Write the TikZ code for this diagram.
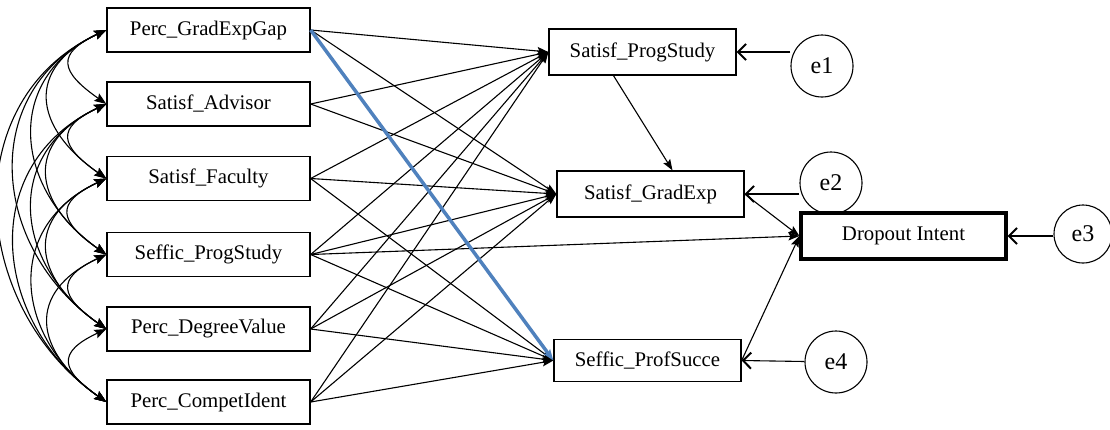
\documentclass[tikz,border=0pt]{standalone}
\usepackage{fontspec}
\setmainfont{Liberation Serif}
\usetikzlibrary{arrows.meta}
\definecolor{pathblue}{RGB}{79,129,189}

\begin{document}
\begin{tikzpicture}[x=1pt, y=-1pt, line width=1.1pt,
    font=\fontsize{20.8}{24}\selectfont,
    >={Stealth[length=11pt,width=8pt,inset=2pt]},
    var/.style={draw, rectangle, line width=1.3pt, inner sep=0pt, minimum width=203pt, minimum height=44pt},
    endo/.style={var, minimum width=187pt, minimum height=46pt},
    err/.style={draw, circle, line width=1.1pt, inner sep=0pt, minimum size=62pt, font=\fontsize{24}{28}\selectfont},
    cov/.style={{Stealth[length=12pt,width=9pt,inset=2pt]}-{Stealth[length=12pt,width=9pt,inset=2pt]}, out=205, in=145},
    res/.style={-{Straight Barb[length=8pt,width=16pt,line width=2pt]}}]
    \useasboundingbox (0,0) rectangle (1110,429);
    % exogenous
    \node[var] (gap) at (208.5,30) {Perc\_GradExpGap};
    \node[var] (adv) at (208.5,104) {Satisf\_Advisor};
    \node[var] (fac) at (208.5,178.5) {Satisf\_Faculty};
    \node[var] (seff) at (208.5,254.5) {Seffic\_ProgStudy};
    \node[var] (deg) at (208.5,329) {Perc\_DegreeValue};
    \node[var] (comp) at (208.5,402) {Perc\_CompetIdent};
    % mediators and outcome
    \node[endo] (psat) at (642.5,52) {Satisf\_ProgStudy};
    \node[endo] (gsat) at (650.5,194) {Satisf\_GradExp};
    \node[endo, minimum height=42pt] (prof) at (647.5,360.5) {Seffic\_ProfSucce};
    \node[endo, line width=3.2pt, minimum width=205pt] (drop) at (903.5,236) {Dropout Intent};
    % residuals
    \node[err] (e1) at (822,66) {e1};
    \node[err] (e2) at (831,183) {e2};
    \node[err, minimum size=58pt] (e3) at (1083,234) {e3};
    \node[err] (e4) at (836,362) {e4};
    \draw[res] (e1.west |- psat.east) -- (psat.east);
    \draw[res] (e2.west |- gsat.east) -- (gsat.east);
    \draw[res] (e3.west |- drop.east) -- (drop.east);
    \draw[res] (e4) -- (prof.east);
    % covariances
    \draw[cov, looseness=1.95] (gap.west) to (adv.west);
    \draw[cov, looseness=1.55] (gap.west) to (fac.west);
    \draw[cov, looseness=1.3] (gap.west) to (seff.west);
    \draw[cov, looseness=1.22] (gap.west) to (deg.west);
    \draw[cov, looseness=1.15] (gap.west) to (comp.west);
    \draw[cov, looseness=1.95] (adv.west) to (fac.west);
    \draw[cov, looseness=1.55] (adv.west) to (seff.west);
    \draw[cov, looseness=1.3] (adv.west) to (deg.west);
    \draw[cov, looseness=1.22] (adv.west) to (comp.west);
    \draw[cov, looseness=1.95] (fac.west) to (seff.west);
    \draw[cov, looseness=1.55] (fac.west) to (deg.west);
    \draw[cov, looseness=1.3] (fac.west) to (comp.west);
    \draw[cov, looseness=1.95] (seff.west) to (deg.west);
    \draw[cov, looseness=1.55] (seff.west) to (comp.west);
    \draw[cov, looseness=1.95] (deg.west) to (comp.west);
    % paths
    \draw[->] (gap.east) -- (psat.west);
    \draw[->] (gap.east) -- (gsat.west);
    \draw[->] (adv.east) -- (psat.west);
    \draw[->] (adv.east) -- (gsat.west);
    \draw[->] (fac.east) -- (psat.west);
    \draw[->] (fac.east) -- (gsat.west);
    \draw[->] (fac.east) -- (prof.west);
    \draw[->] (seff.east) -- (psat.west);
    \draw[->] (seff.east) -- (gsat.west);
    \draw[->] (seff.east) -- (prof.west);
    \draw[->] (seff.east) -- (drop.west);
    \draw[->] (deg.east) -- (psat.west);
    \draw[->] (deg.east) -- (gsat.west);
    \draw[->] (deg.east) -- (prof.west);
    \draw[->] (comp.east) -- (psat.west);
    \draw[->] (comp.east) -- (gsat.west);
    \draw[->] (comp.east) -- (prof.west);
    \draw[->] ([xshift=-29pt]psat.south) -- ([xshift=22pt]gsat.north);
    \draw[->] (gsat.east) -- (drop.west);
    \draw[->] (prof.east) -- (drop.west);
    \draw[->, pathblue, line width=3.5pt] (gap.east) -- (prof.west);
\end{tikzpicture}
\end{document}
